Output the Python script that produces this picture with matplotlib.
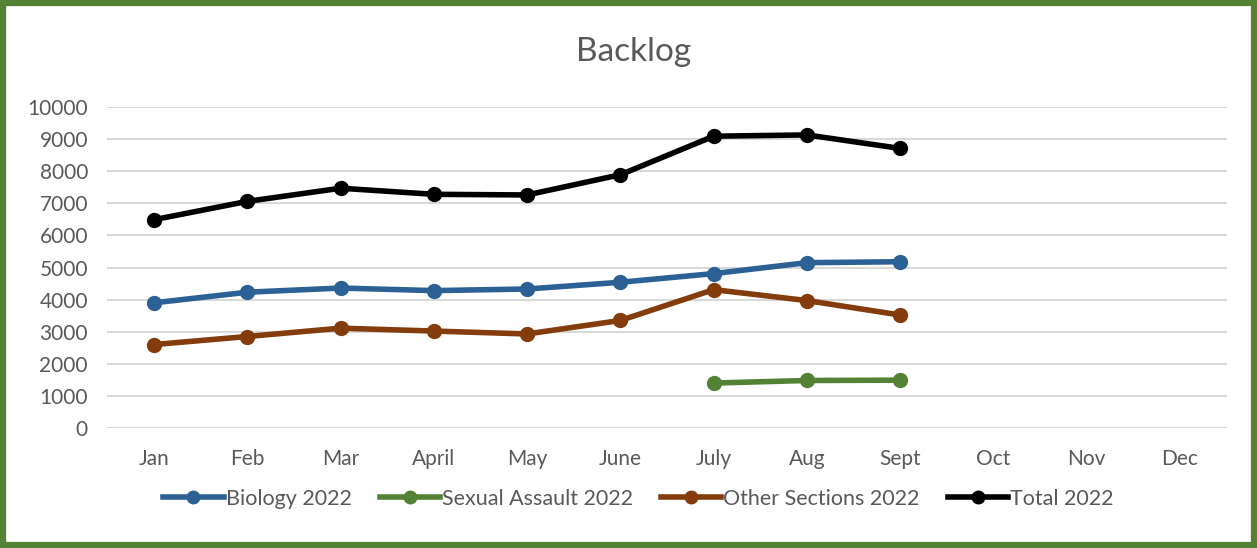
import matplotlib
matplotlib.use("Agg")
import matplotlib.pyplot as plt
import numpy as np

months = ["Jan", "Feb", "Mar", "April", "May", "June", "July", "Aug", "Sept", "Oct", "Nov", "Dec"]
biology = [3900, 4230, 4360, 4280, 4330, 4540, 4810, 5150, 5180]
sexual_assault_months = ["July", "Aug", "Sept"]
sexual_assault = [1400, 1480, 1490]
other_sections = [2600, 2850, 3110, 3020, 2930, 3350, 4310, 3970, 3520]
total = [6490, 7060, 7470, 7280, 7260, 7890, 9090, 9130, 8710]

series_labels = ["Biology 2022", "Sexual Assault 2022", "Other Sections 2022", "Total 2022"]
colors = ["#2C6195", "#548235", "#843C0C", "#000000"]

plt.rcParams['font.family'] = ['Lato', 'DejaVu Sans']
text_color = "#595959"

fig = plt.figure(figsize=(12.57, 5.48), dpi=100)
ax = fig.add_axes([107.4 / 1257, 1 - 428 / 548, (1226.6 - 107.4) / 1257, (428 - 107) / 548])

x = np.arange(len(months))
idx = {m: i for i, m in enumerate(months)}
lw, ms = 4.0, 10
ax.plot(x[:len(biology)], biology, color=colors[0], lw=lw, marker='o', ms=ms, label=series_labels[0], zorder=3)
ax.plot([idx[m] for m in sexual_assault_months], sexual_assault, color=colors[1], lw=lw, marker='o', ms=ms, label=series_labels[1], zorder=3)
ax.plot(x[:len(other_sections)], other_sections, color=colors[2], lw=lw, marker='o', ms=ms, label=series_labels[2], zorder=3)
ax.plot(x[:len(total)], total, color=colors[3], lw=lw, marker='o', ms=ms, label=series_labels[3], zorder=3)

ax.set_xlim(-0.5, len(months) - 0.5)
ax.set_ylim(0, 10000)
ax.set_yticks(np.arange(0, 10001, 1000))
ax.set_xticks(x)
ax.set_xticklabels(months)
ax.grid(axis='y', color='#D9D9D9', lw=1.5, zorder=0)
for s in ax.spines.values():
    s.set_visible(False)
ax.tick_params(length=0, labelsize=15, colors=text_color)
ax.tick_params(axis='x', pad=15)
ax.tick_params(axis='y', pad=14)

fig.text(0.504, 1 - 52 / 548, "Backlog", ha='center', va='center', fontsize=24, color=text_color)

leg = fig.legend(loc='center', bbox_to_anchor=(0.508, 1 - 499 / 548), ncol=4, frameon=False,
                 fontsize=15.5, labelcolor=text_color, handlelength=2.8, handletextpad=0.1,
                 columnspacing=1.3, markerscale=0.9)

fig.patches.append(plt.Rectangle((3 / 1257, 3 / 548), 1 - 6 / 1257, 1 - 6 / 548,
                                 transform=fig.transFigure, fill=False, edgecolor='#548235', lw=4.5))

fig.savefig("out.png", dpi=100)
